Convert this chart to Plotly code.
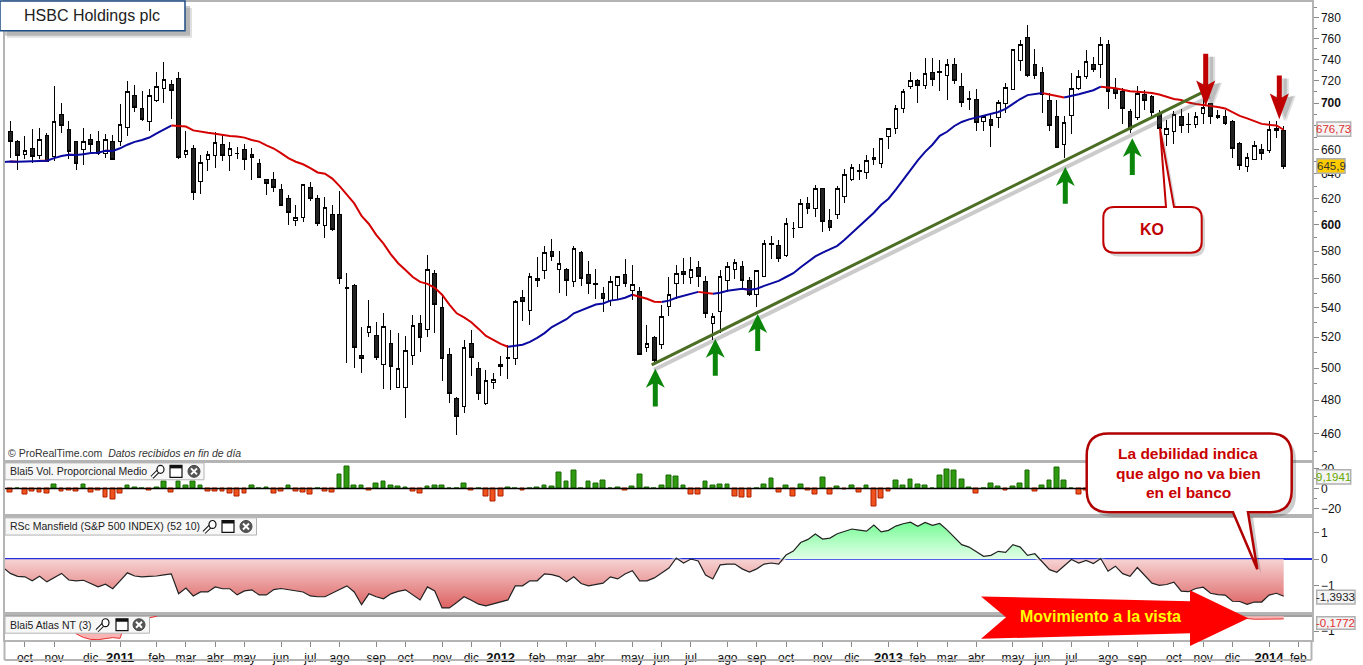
import plotly.graph_objects as go

W, H = 1363, 665

opens = [675, 667, 656, 661, 655, 672, 654, 690, 677, 667,
         660, 668, 667, 657, 667, 667, 679, 707, 695, 684,
         702, 713, 717, 722, 656, 661, 634, 652, 655, 664,
         655, 657, 660, 656, 648, 635, 635, 627, 620, 603,
         605, 629, 620, 599, 608, 608, 554, 555, 508, 523,
         521, 502, 516, 488, 488, 508, 529, 525, 564, 540,
         509, 481, 476, 516, 500, 478, 491, 502, 506, 506,
         547, 538, 560, 566, 580, 567, 567, 558, 579, 563,
         556.5, 550, 545, 555, 563, 552, 551, 513, 520, 515,
         541, 557, 565, 561, 568, 558, 529, 537, 559, 567,
         569, 559, 549, 562, 586, 584, 577, 597, 598, 616,
         612, 628, 603, 608, 622, 635, 643, 641, 652, 648,
         671, 678, 695, 715, 720, 716, 728, 728, 725, 735,
         715, 704, 703, 684, 686, 687, 700, 712, 739, 761,
         735, 728, 702, 688, 664, 689, 713, 724, 735, 735,
         754, 713, 710, 693, 687, 708, 706, 691, 673, 675,
         688, 681, 681, 691, 700, 689, 688, 684, 665, 646,
         652, 660, 659, 676, 676]
highs = [684, 668, 671, 677, 678, 674, 715, 700, 684, 667,
         678, 673, 676, 673, 672, 699, 720, 716, 711, 713,
         728, 738, 721, 728, 676, 664, 655, 659, 675, 672,
         666, 662, 665, 661, 652, 635, 641, 632, 623, 615,
         632, 633, 623, 621, 615, 626, 564, 556, 527, 545,
         530, 536, 525, 523, 521, 535, 535, 577, 566, 548,
         513, 482, 518, 525, 504, 499, 497, 508, 515, 545,
         552, 564, 576, 584, 589, 580, 568, 584, 580, 573,
         567, 554, 562, 562, 574, 570, 554, 528, 521, 542,
         561, 570, 575, 576, 573, 562, 536, 566, 572, 574,
         573, 561, 566, 588, 591, 588, 605, 602, 620, 621,
         631, 628, 612, 630, 644, 648, 648, 655, 661, 670,
         678, 698, 713, 728, 722, 741, 741, 739, 740, 741,
         727, 711, 713, 689, 691, 703, 718, 750, 758, 773,
         750, 733, 709, 703, 689, 727, 730, 749, 742, 761,
         758, 723, 714, 695, 715, 712, 707, 694, 685, 693,
         695, 691, 692, 706, 700, 694, 694, 685, 666, 657,
         667, 665, 684, 684, 680]
lows = [653, 643, 652, 649, 652, 650, 650, 674, 652, 643,
        647, 657, 655, 653, 652, 663, 671, 692, 684, 676,
        701, 700, 686, 652, 653, 619, 624, 642, 645, 650,
        642, 652, 643, 635, 637, 623, 625, 614, 600, 599,
        602, 618, 599, 590, 595, 556, 503, 500, 497, 520,
        505, 487, 486, 488, 469, 502, 510, 520, 523, 492,
        478, 459, 472, 495, 480, 477, 487, 495, 493, 502,
        531, 528, 554, 560, 573, 550, 548, 554, 555, 549,
        546, 537, 541, 545, 554, 545, 509, 510, 504, 512,
        534, 546, 556, 556, 554, 533, 518, 523, 551, 560,
        552, 548, 540, 561, 574, 572, 576, 590, 597, 608,
        606, 594, 595, 604, 617, 634, 635, 636, 647, 645,
        660, 673, 691, 713, 700, 713, 715, 711, 703, 717,
        697, 694, 676, 676, 662, 678, 691, 712, 729, 724,
        722, 691, 676, 662, 653, 673, 712, 722, 728, 723,
        695, 704, 682, 674, 685, 694, 687, 678, 663, 665,
        674, 674, 678, 682, 682, 686, 681, 653, 643, 641,
        652, 651, 657, 670, 644]
closes = [667, 655, 659, 654, 668, 650, 684, 680, 658, 648,
          667, 664, 657, 668, 652, 681, 710, 696, 686, 707,
          715, 721, 711, 653, 659, 625, 649, 656, 666, 655,
          661, 657, 652, 653, 637, 632, 629, 615, 609, 605,
          631, 620, 601, 613, 596, 560, 553, 513, 506, 527,
          507, 527, 501, 500, 511, 528, 520, 567, 542, 506,
          484, 470, 513, 507, 484, 492, 493, 501, 507, 544,
          544, 562, 559, 579, 576, 571, 559, 582, 560, 557,
          556, 546, 558, 562, 557, 556, 509, 516, 505, 534,
          549, 564, 563, 567, 562, 536, 534, 562, 569, 572,
          559, 549, 566, 586, 585, 575, 601, 597, 616, 612,
          628, 602, 598, 628, 639, 645, 642, 651, 653, 669,
          678, 695, 710, 720, 716, 727, 721, 728.5, 735, 720,
          701, 703, 683, 688, 680, 701, 714, 749, 754, 725,
          725, 708, 680, 662, 683, 713, 724, 738, 731, 754,
          710, 709, 695, 677, 709, 702, 692, 678, 678, 690,
          680, 681.5, 688, 696, 688, 687, 682, 661, 647, 653,
          663, 657, 677, 678, 645.9]

# moving average and Mansfield start one week before the first visible candle
ma = [649.5, 650, 649.8, 650, 650.2, 650.7, 650.6, 652.8, 654.5, 655.5, 655.3,
      656.1, 657, 657.2, 658.9, 658.8, 661, 664, 666.4, 668, 670.1,
      673.6, 677, 680.4, 680.2, 679.5, 676.2, 675, 674.2, 673.4, 672.2,
      671.4, 670.9, 670, 668, 666.6, 663.5, 660.8, 657, 652.8, 649.8,
      647.7, 644.5, 641, 640, 636, 630, 623.3, 616.3, 606.5, 600.4,
      592.2, 585.6, 577.7, 571.2, 566.3, 561.3, 557.8, 556.4, 553.6, 548.8,
      542, 536, 533.3, 530, 525.5, 520.8, 518.2, 515.6, 513.7, 514.3,
      515, 516.9, 519.5, 522.7, 526.7, 529.3, 532, 536, 538, 540,
      542, 542.7, 544.7, 545.4, 546.7, 548.8, 547.4, 546, 544, 543.8,
      544.7, 546.7, 548, 549.5, 550.8, 550.2, 549.5, 550.2, 551.6, 552.3,
      553, 552.3, 553, 555, 557, 558.5, 561.3, 564, 568.3, 572,
      576.2, 579, 581.2, 584, 588.5, 593.7, 599, 603.5, 609, 615.2,
      620, 627.2, 635.3, 643.5, 651, 658, 664, 671.5, 675, 680,
      683.5, 685.7, 687.4, 688.7, 690.5, 692.2, 694.9, 699.3, 703.7, 707.2,
      708, 709, 707.7, 706, 705, 706.3, 708, 709.8, 711.6, 714.8,
      714.3, 713.4, 712, 710.7, 710.3, 709.8, 709, 707.7, 705.4, 703.7,
      702.8, 700.5, 699.2, 698.4, 697.5, 696.6, 695.3, 692.2, 688.8, 686.6,
      684.4, 681.8, 681, 680.5, 676.73]

vol = [-4, 0, -5.5, -2.5, -3.5, -4.5, 4, -2.5, -1.5, -2.5,
       4.5, -3.5, -1.5, -9, -11.5, -4.5, 3, 1, 0.2, -1.5,
       1, 7, -3.5, 7, 3, 7.5, 3.5, -2.5, -2.5, -2.5,
       -4.5, -8.5, -4.5, 3.5, 0, 1, -4.5, -2.5, 3, -2.5,
       -3.5, -5.5, 0, -2.5, -3.5, 14.5, 22.5, 3.5, 3, -2,
       5.5, 7, 3, 2, 1, -2.5, -4.5, 2, 3, 3,
       0, 0.3, 5.5, -2, 0, -7.5, -13.5, -7.5, 1, 0,
       -1.5, 0, 1, 3, 2, 16, 7, 18, 0, 7,
       5.5, 8, 0, 1, -1.5, 2, 14, 1, 0, 3,
       13, 12, 3, -5.5, -5.5, 7, 3, 4.5, 4.5, -8.5,
       -9.5, -9.5, 0, 4.5, 10, -3.5, 3, -7.5, 4.5, -1.5,
       -5.5, 11, -5.5, 2, -1, 3.5, -3.5, 3.5, -18.5, -10.5,
       -2.5, 8.5, 3.3, 9.3, 4.3, 3.3, 0, 13.3, 19.3, 18.3,
       9.3, 1.3, -5, 0, 5.3, 2.3, -2, 2.3, 5.3, 18.3,
       -3, 3.3, 8.3, 21.3, 8.3, 0, -6, -2, 3, -2,
       4, 2, -3, 5, 1, -4, 3, 6, -2, 2,
       4, -3, 1, 5, -2, 3, 6, -4, 2, 5,
       3, -2, 4, 7, 9.1941]

mansfield = [-0.31, -0.53, -0.64, -0.66, -0.81, -0.64, -0.85, -0.70, -0.53, -0.78, -0.81,
             -0.79, -0.91, -1.04, -0.94, -1.11, -0.81, -0.51, -0.63, -0.66, -0.64,
             -0.63, -0.59, -0.55, -1.30, -1.08, -1.38, -1.23, -1.23, -1.04, -1.11,
             -1.11, -1.34, -1.19, -1.15, -1.34, -1.34, -1.14, -1.10, -1.14, -1.18,
             -1.23, -1.38, -1.41, -1.41, -1.26, -1.14, -1.00, -1.23, -1.71, -1.30,
             -1.41, -1.49, -1.30, -1.21, -1.15, -1.34, -1.53, -1.04, -1.19, -1.83,
             -1.83, -1.63, -1.41, -1.54, -1.69, -1.75, -1.68, -1.61, -1.53, -1.00,
             -1.00, -0.81, -0.81, -0.55, -0.58, -0.65, -0.85, -0.66, -0.91, -1.00,
             -0.94, -0.90, -0.66, -0.74, -0.55, -0.43, -0.81, -0.81, -0.70, -0.50,
             -0.33, 0.05, -0.14, 0.01, -0.06, -0.59, -0.74, -0.21, -0.18, -0.18,
             -0.36, -0.48, -0.36, -0.18, -0.14, -0.18, 0.16, 0.31, 0.63, 0.75,
             0.95, 0.76, 0.80, 0.96, 1.06, 1.14, 1.10, 1.06, 1.29, 1.03,
             1.09, 1.25, 1.34, 1.40, 1.24, 1.39, 1.28, 1.35, 1.11, 0.84,
             0.55, 0.46, 0.28, 0.11, 0.15, 0.30, 0.26, 0.55, 0.46, 0.15,
             0.21, -0.08, -0.39, -0.49, -0.26, -0.01, -0.14, -0.04, -0.16, 0.03,
             -0.45, -0.26, -0.54, -0.64, -0.31, -0.61, -0.90, -0.98, -0.95, -0.86,
             -1.20, -1.22, -1.10, -1.05, -1.28, -1.33, -1.35, -1.58, -1.59, -1.70,
             -1.61, -1.61, -1.35, -1.28, -1.3933]

atlas = ([None] * 8 + [0, -1.18, -1.42, -1.55, -1.57, -1.5, -1.43, -1.48, 0, None, 0, -0.1, 0]
         + [None] * 144 + [0, -0.1, -0.15, -0.15, -0.15, -0.2, -0.2, -0.18, -0.18, -0.1772])

tick_weeks = [2, 6, 11, 15, 20, 24, 28, 32, 37, 41, 45, 50, 54, 59,
              63, 67, 72, 76, 80, 85, 89, 93, 98, 102, 106, 111, 115, 120,
              124, 128, 132, 137, 141, 145, 150, 154, 159, 163, 167, 172, 176]
tick_labels = ['oct', 'nov', 'dic', '2011', 'feb', 'mar', 'abr', 'may', 'jun', 'jul', 'ago', 'sep', 'oct', 'nov',
               'dic', '2012', 'feb', 'mar', 'abr', 'may', 'jun', 'jul', 'ago', 'sep', 'oct', 'nov', 'dic', '2013',
               'feb', 'mar', 'abr', 'may', 'jun', 'jul', 'ago', 'sep', 'oct', 'nov', 'dic', '2014', 'feb']
price_ticks = [460, 480, 500, 520, 540, 560, 580, 600, 620, 640, 660, 680, 700, 720, 740, 760, 780]
price_minor = [450, 470, 490, 510, 530, 550, 570, 590, 610, 630, 650, 670, 690, 710, 730, 750, 770, 790]

assert len(opens) == len(highs) == len(lows) == len(closes) == len(vol) == len(atlas) == 175
assert len(ma) == len(mansfield) == 176

weeks = list(range(175))
line_weeks = list(range(-1, 175))

FONT = 'Liberation Sans, Arial, sans-serif'
GREY = '#b4b4b4'


def fx(x):
    return x / W


def fy(y):
    return 1 - y / H


shapes = []
notes = []


def poly(points, fill, line=None, width=0, opacity=1):
    d = 'M ' + ' L '.join(f'{fx(x):.5f},{fy(y):.5f}' for x, y in points) + ' Z'
    shapes.append(dict(type='path', xref='paper', yref='paper', path=d, fillcolor=fill, opacity=opacity,
                       line=dict(color=line or fill, width=width)))


def rect(x0, y0, x1, y1, fill, line=None, width=1, opacity=1):
    shapes.append(dict(type='rect', xref='paper', yref='paper', x0=fx(x0), x1=fx(x1), y0=fy(y0), y1=fy(y1),
                       fillcolor=fill, opacity=opacity, line=dict(color=line or fill, width=width if line else 0)))


def seg(x0, y0, x1, y1, color, width, opacity=1):
    shapes.append(dict(type='line', xref='paper', yref='paper', x0=fx(x0), x1=fx(x1), y0=fy(y0), y1=fy(y1),
                       opacity=opacity, line=dict(color=color, width=width)))


def text(x, y, s, size=12, color='#222222', anchor='center'):
    notes.append(dict(xref='paper', yref='paper', x=fx(x), y=fy(y), text=s, showarrow=False, xanchor=anchor,
                      yanchor='middle', font=dict(family=FONT, size=size, color=color)))


def callout(x0, y0, x1, y1, r, pointer, top, fill, line, width, opacity=1):
    bx0, bx1, tx, ty = pointer
    P = lambda x, y: f'{fx(x):.5f},{fy(y):.5f}'
    d = f'M {P(x0 + r, y0)} '
    if top:
        d += f'L {P(bx0, y0)} L {P(tx, ty)} L {P(bx1, y0)} '
    d += f'L {P(x1 - r, y0)} Q {P(x1, y0)} {P(x1, y0 + r)} L {P(x1, y1 - r)} Q {P(x1, y1)} {P(x1 - r, y1)} '
    if not top:
        d += f'L {P(bx1, y1)} L {P(tx, ty)} L {P(bx0, y1)} '
    d += f'L {P(x0 + r, y1)} Q {P(x0, y1)} {P(x0, y1 - r)} L {P(x0, y0 + r)} Q {P(x0, y0)} {P(x0 + r, y0)} Z'
    shapes.append(dict(type='path', xref='paper', yref='paper', path=d, fillcolor=fill, opacity=opacity,
                       line=dict(color=line, width=width)))


def up_arrow(x, tip, bottom):
    pts = [(x, tip), (x + 9.5, tip + 19), (x + 2.5, tip + 15), (x + 2.5, bottom), (x - 2.5, bottom), (x - 2.5, tip + 15),
           (x - 9.5, tip + 19)]
    poly(pts, '#0b860b')


def down_arrow(x, top, tip):
    for off, op in ((7, 0.18), (5, 0.25)):
        pts = [(x - 2.5 + off, top + 3), (x + 2.5 + off, top + 3), (x + 2.5 + off, tip - 22), (x + 9.5 + off, tip - 24),
               (x + off, tip + 2), (x - 9.5 + off, tip - 24), (x - 2.5 + off, tip - 22)]
        poly(pts, '#555555', opacity=op)
    pts = [(x - 2.5, top), (x + 2.5, top), (x + 2.5, tip - 22), (x + 9.5, tip - 26), (x, tip), (x - 9.5, tip - 26),
           (x - 2.5, tip - 22)]
    poly(pts, '#c00000')


def legend_box(x1, y0, y1, label, wrench, window, close):
    rect(5, y0, x1, y1, '#f7f7f7', GREY, 1)
    text(8, (y0 + y1) / 2, label, 10.5, '#222222', 'left')
    y = (y0 + y1) / 2
    seg(wrench - 6, y + 6, wrench + 1, y - 1, '#111111', 4)
    seg(wrench - 6, y + 6, wrench + 1, y - 1, '#ffffff', 2)
    shapes.append(dict(type='circle', xref='paper', yref='paper', x0=fx(wrench - 1), x1=fx(wrench + 6),
                       y0=fy(y + 2), y1=fy(y - 6), fillcolor='#ffffff', line=dict(color='#111111', width=1.2)))
    rect(window - 6, y - 6, window + 6, y + 6, '#ffffff', '#111111', 1.2)
    rect(window - 6, y - 6, window + 6, y - 3, '#111111')
    shapes.append(dict(type='circle', xref='paper', yref='paper', x0=fx(close - 6), x1=fx(close + 6),
                       y0=fy(y + 6), y1=fy(y - 6), fillcolor='#555555', line=dict(color='#444444', width=1)))
    seg(close - 3, y - 3, close + 3, y + 3, '#ffffff', 2)
    seg(close - 3, y + 3, close + 3, y - 3, '#ffffff', 2)


def value_box(x0, y0, x1, y1, s, color, fill='#f4f4f4'):
    rect(x0, y0, x1, y1, fill, '#b0b0b0', 1.5)
    text((x0 + x1) / 2, (y0 + y1) / 2, s, 11.5, color)


fig = go.Figure()

fig.add_trace(go.Candlestick(x=weeks, open=opens, high=highs, low=lows, close=closes, xaxis='x', yaxis='y',
                             whiskerwidth=0,
                             increasing=dict(fillcolor='#ffffff', line=dict(color='#000000', width=1)),
                             decreasing=dict(fillcolor='#222222', line=dict(color='#000000', width=1))))

# average is blue while rising and red while falling
ma_blue = [None] * len(ma)
ma_red = [None] * len(ma)
for j in range(1, len(ma)):
    target = ma_blue if ma[j] >= ma[j - 1] else ma_red
    target[j - 1] = ma[j - 1]
    target[j] = ma[j]
fig.add_trace(go.Scatter(x=line_weeks, y=ma_red, mode='lines', line=dict(color='#d40000', width=2), xaxis='x', yaxis='y'))
fig.add_trace(go.Scatter(x=line_weeks, y=ma_blue, mode='lines', line=dict(color='#0a0aa0', width=2), xaxis='x', yaxis='y'))

fig.add_trace(go.Bar(x=weeks, y=vol, width=0.65, xaxis='x2', yaxis='y2',
                     marker=dict(color=['#2f9a10' if v >= 0 else '#f0521e' for v in vol],
                                 line=dict(color=['#1a6a06' if v >= 0 else '#b02000' for v in vol], width=1))))
# baseline stops at the last week, not at the panel edge
fig.add_trace(go.Scatter(x=[line_weeks[0], line_weeks[-1]], y=[0, 0], mode='lines', line=dict(color='#000000', width=1.5),
                         xaxis='x2', yaxis='y2'))

pos = [max(v, 0) for v in mansfield]
neg = [min(v, 0) for v in mansfield]
fig.add_trace(go.Scatter(x=line_weeks, y=pos, mode='none', fill='tozeroy', xaxis='x3', yaxis='y3',
                         fillgradient=dict(type='vertical', start=0, stop=1.5,
                                           colorscale=[[0, '#e4ffea'], [1, '#70fb90']])))
fig.add_trace(go.Scatter(x=line_weeks, y=neg, mode='none', fill='tozeroy', xaxis='x3', yaxis='y3',
                         fillgradient=dict(type='vertical', start=0, stop=-1.9,
                                           colorscale=[[0, '#f6d2d2'], [1, '#dc5c5c']])))
fig.add_trace(go.Scatter(x=line_weeks, y=mansfield, mode='lines', line=dict(color='#222222', width=1.2),
                         xaxis='x3', yaxis='y3'))

fig.add_trace(go.Scatter(x=weeks, y=atlas, mode='lines', fill='tozeroy', fillcolor='#f9b4b4',
                         line=dict(color='#e83030', width=1), xaxis='x4', yaxis='y4'))

x_domain = [fx(4.5), fx(1311.5)]
x_range = [-0.79, 177.8]
base_x = dict(domain=x_domain, range=x_range, showgrid=False, zeroline=False, showline=True, mirror=True,
              linecolor=GREY, linewidth=2, showticklabels=False, ticks='', rangeslider=dict(visible=False))
base_y = dict(side='right', showgrid=False, showline=True, mirror=True, linecolor=GREY, linewidth=2,
              ticks='outside', ticklen=5, tickcolor='#888888', tickfont=dict(family=FONT, size=12, color='#111111'))

ticktext = [f'<b><span style="font-size:13px">{t}</span></b>' if t.isdigit() else t for t in tick_labels]
# the 680 label sits under the average's value box
price_text = ['' if p == 680 else f'<b>{p}</b>' if p in (600, 700) else str(p) for p in price_ticks]

fig.update_layout(
    width=W, height=H, margin=dict(l=0, r=0, t=0, b=0), paper_bgcolor='#ffffff', plot_bgcolor='#ffffff',
    showlegend=False, hovermode=False, bargap=0,
    font=dict(family=FONT, color='#222222'),
    xaxis=dict(base_x, anchor='y'),
    xaxis2=dict(base_x, anchor='y2', matches='x'),
    xaxis3=dict(base_x, anchor='y3', matches='x'),
    xaxis4=dict(base_x, anchor='y4', matches='x', showticklabels=True, ticks='outside', ticklen=5,
                tickcolor='#888888', tickmode='array', tickvals=tick_weeks, ticktext=ticktext, tickangle=0,
                tickfont=dict(family=FONT, size=12, color='#111111')),
    yaxis=dict(base_y, domain=[fy(461.5), fy(1)], type='log', range=[2.6484, 2.9009], zeroline=False, anchor='x',
               tickmode='array', tickvals=price_ticks, ticktext=price_text,
               minor=dict(tickmode='array', tickvals=price_minor, ticks='outside', ticklen=3, tickcolor='#888888')),
    yaxis2=dict(base_y, domain=[fy(516), fy(464.3)], range=[-25.5, 26.2], anchor='x2', zeroline=False,
                tickmode='array', tickvals=[-20, 0, 20],
                minor=dict(tickmode='array', tickvals=[-10, 10], ticks='outside', ticklen=3, tickcolor='#888888')),
    yaxis3=dict(base_y, domain=[fy(614.3), fy(520)], range=[-1.97, 1.56], anchor='x3', zeroline=True,
                zerolinecolor='#2030e0', zerolinewidth=1.5, tickmode='array', tickvals=[-1, 0, 1]),
    yaxis4=dict(base_y, domain=[fy(643.3), fy(617.7)], range=[-1.62, 0.087], anchor='x4', zeroline=True,
                zerolinecolor='#a0a0a0', zerolinewidth=1.5, tickmode='array', tickvals=[-1]),
)

# title box
for off, op in ((7, 0.18), (5, 0.3)):
    rect(off, off, 185 + off, 30 + off, '#555555', opacity=op)
rect(0, 0, 185, 30, '#ffffff', '#1f4e86', 1.5)
text(92, 15, 'HSBC Holdings plc', 16, '#222222')

text(6, 455, '© ProRealTime.com  <i>Datos recibidos en fin de día</i>', 10.5, '#333333', 'left')

legend_box(204, 464.7, 481.7, 'Blai5 Vol. Proporcional Medio', 158, 176, 194)
legend_box(256.5, 520, 537.3, 'RSc Mansfield (S&amp;P 500 INDEX) (52 10)', 210, 228, 246)
legend_box(149.5, 619, 636, 'Blai5 Atlas NT (3)', 103, 122, 139)

# trend line and arrows
seg(654, 371, 1210, 96, '#555555', 4, 0.3)
seg(651.7, 366, 1205, 90.7, '#4b6e24', 3)
for x, tip, bottom in ((655.3, 370, 408), (715.3, 340, 377), (757.7, 315, 352), (1065.3, 167, 204), (1132.3, 138, 175)):
    up_arrow(x, tip, bottom)
down_arrow(1205.7, 53, 106)
down_arrow(1279.3, 75, 119)

# KO callout
callout(1107, 211, 1205, 257, 11, (1169, 1177, 1163, 132), True, '#555555', '#555555', 0, 0.25)
callout(1103.3, 207.3, 1201.7, 253.3, 11, (1166, 1174, 1160, 128), True, '#ffffff', '#c00000', 2)
text(1152, 230, '<b>KO</b>', 16, '#c00000')

# weakness callout
callout(1091, 440, 1296, 519, 22, (1238, 1253, 1261, 576), False, '#555555', '#555555', 0, 0.3)
callout(1086.7, 435, 1291.7, 514.3, 22, (1233, 1248, 1257.3, 571.7), False, '#ffffff', '#b00000', 2.5)
text(1188, 455.7, '<b>La debilidad indica</b>', 15.5, '#c80000')
text(1188, 475, '<b>que algo no va bien</b>', 15.5, '#c80000')
text(1188, 494, '<b>en el banco</b>', 15.5, '#c80000')

# big red arrow
poly([(981, 599), (1190, 604), (1190, 592.7), (1248.3, 621), (1190, 649), (1190, 636), (981, 641.7), (1006, 620)], '#ff0000')
text(1100, 619.3, '<b>Movimiento a la vista</b>', 16, '#ffff00')

# bottom strip of date axis
seg(4.5, 663, 1311.5, 663, GREY, 2)
seg(4.5, 643, 4.5, 663, GREY, 2)
seg(1311.5, 643, 1311.5, 663, GREY, 2)

value_box(1317, 121.7, 1350.7, 136, '676,73', '#e03030')
value_box(1317, 158.7, 1345, 173.3, '645,9', '#333333', '#ffcc00')
value_box(1316.7, 471.7, 1350.7, 486, '9,1941', '#66aa00')
value_box(1316.7, 592.7, 1355, 606.7, '-1,3933', '#222222')
value_box(1316.7, 619.5, 1355, 632, '-0,1772', '#e03030')

fig.update_layout(shapes=shapes, annotations=notes)

# crisp one pixel candle outlines, as in the charting package
crisp = ("document.body.style.margin='0';"
         "document.querySelectorAll('.boxlayer path').forEach(p => p.style.shapeRendering = 'crispEdges');")
fig.write_html("out.html", config=dict(displayModeBar=False), post_script=crisp)
